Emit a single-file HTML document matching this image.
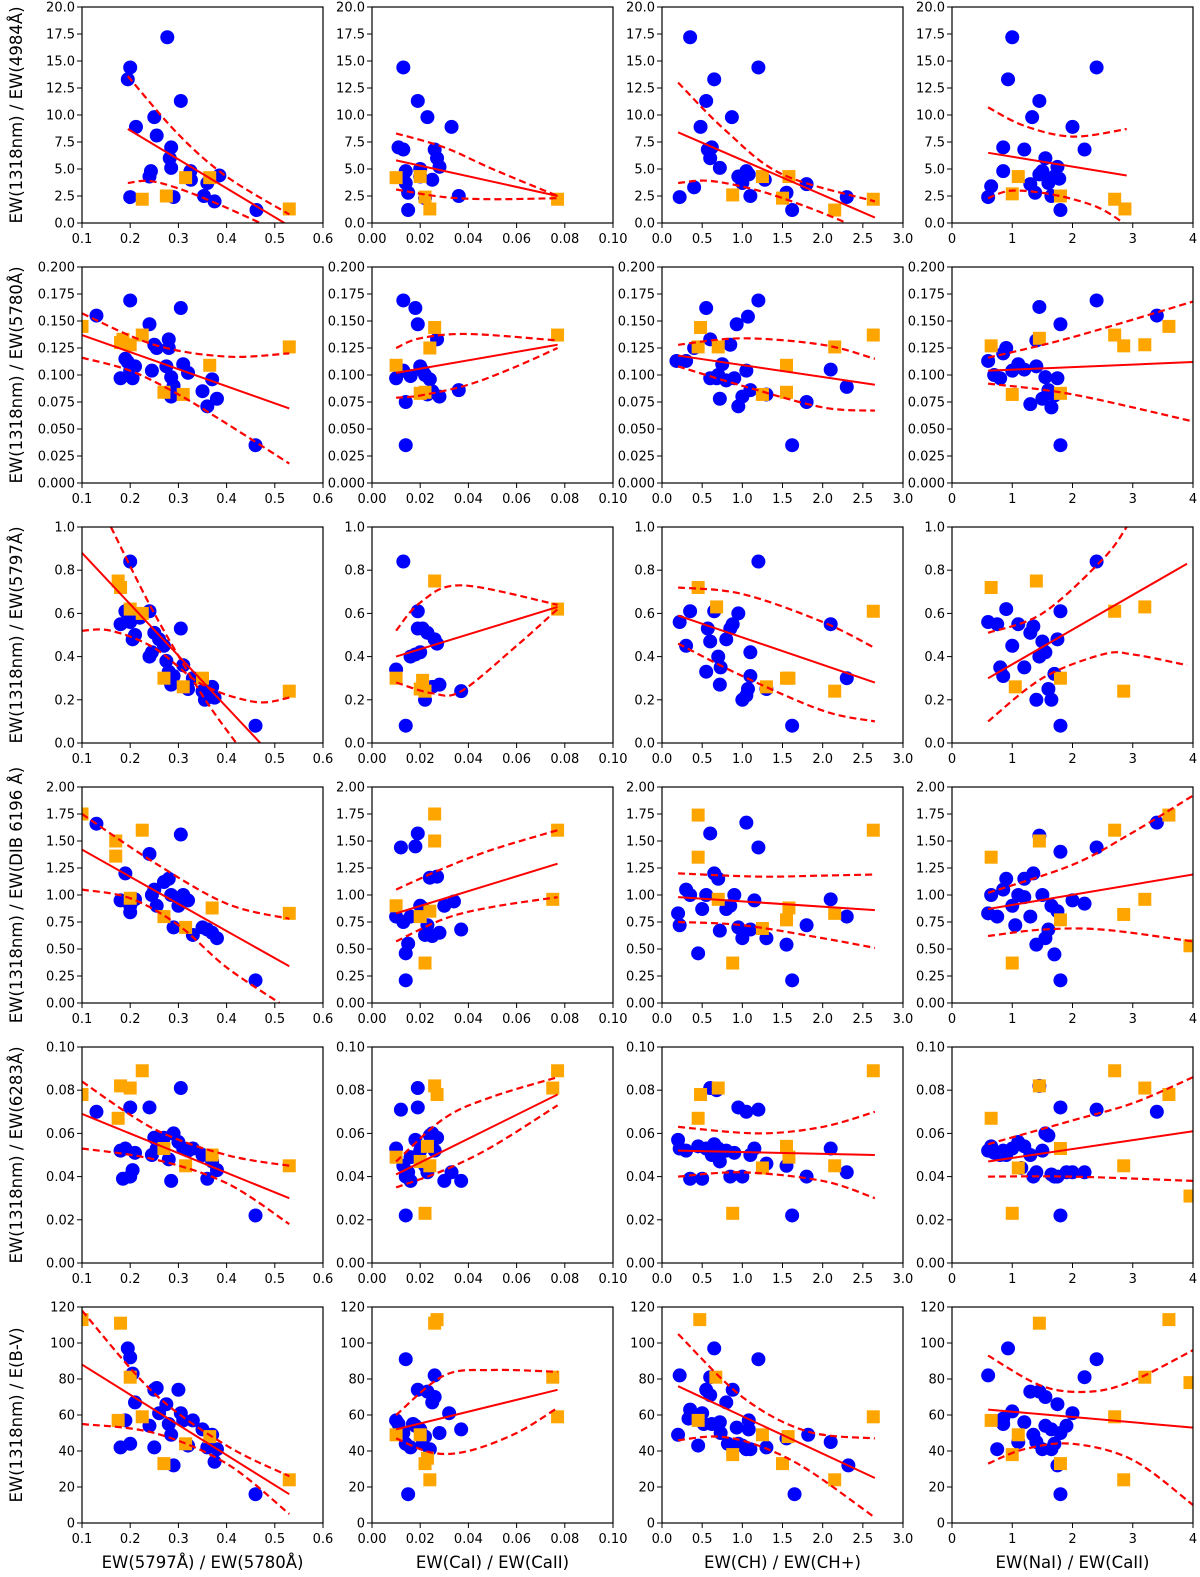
<!DOCTYPE html>
<html><head><meta charset="utf-8">
<style>
html,body{margin:0;padding:0;background:#fff;}
svg{display:block;font-family:"DejaVu Sans","Liberation Sans",sans-serif;}
</style></head>
<body>
<svg id="fig" width="1200" height="1577" viewBox="0 0 1200 1577" xmlns="http://www.w3.org/2000/svg"></svg>
<script>
// ---- column / row axis definitions ----
const colDomains = [[0.1,0.6],[0,0.1],[0,3],[0,4]];
const colTicks = [[0.1,0.2,0.3,0.4,0.5,0.6],[0,0.02,0.04,0.06,0.08,0.10],[0,0.5,1,1.5,2,2.5,3],[0,1,2,3,4]];
const colTickDec = [1,2,1,0];
const colLabels = ["EW(5797Å) / EW(5780Å)","EW(CaI) / EW(CaII)","EW(CH) / EW(CH+)","EW(NaI) / EW(CaII)"];
const rowDomains = [[0,20],[0,0.2],[0,1],[0,2],[0,0.1],[0,120]];
const rowTicks = [[0,2.5,5,7.5,10,12.5,15,17.5,20],[0,0.025,0.05,0.075,0.1,0.125,0.15,0.175,0.2],[0,0.2,0.4,0.6,0.8,1],[0,0.25,0.5,0.75,1,1.25,1.5,1.75,2],[0,0.02,0.04,0.06,0.08,0.1],[0,20,40,60,80,100,120]];
const rowTickDec = [1,3,1,2,2,0];
const rowLabels = ["EW(1318nm) / EW(4984Å)","EW(1318nm) / EW(5780Å)","EW(1318nm) / EW(5797Å)","EW(1318nm) / EW(DIB 6196 Å)","EW(1318nm) / EW(6283Å)","EW(1318nm) / E(B-V)"];

// ---- row 1 ----
const blue_r1c1=[[0.195,13.3],[0.2,14.4],[0.2,2.4],[0.212,8.9],[0.24,4.3],[0.243,4.8],[0.25,9.8],[0.255,8.1],[0.277,17.2],[0.282,6.0],[0.285,7.0],[0.285,5.1],[0.29,2.4],[0.305,11.3],[0.325,4.8],[0.326,4.0],[0.353,2.5],[0.36,3.7],[0.375,2.0],[0.385,4.4],[0.462,1.2]];
const orange_r1c1=[[0.225,2.2],[0.275,2.5],[0.315,4.2],[0.365,4.2],[0.53,1.3]];
const fit_r1c1=[[0.195,8.7],[0.52,0]];
const up_r1c1=[[0.195,13.6],[0.3,8.2],[0.4,4.3],[0.53,0.8]];
const lo_r1c1=[[0.195,3.7],[0.24,3.9],[0.3,3.2],[0.38,1.8],[0.47,0]];
const blue_r1c2=[[0.011,7.0],[0.013,6.8],[0.013,14.4],[0.014,4.8],[0.014,3.7],[0.015,2.8],[0.015,1.2],[0.019,11.3],[0.02,4.3],[0.023,9.8],[0.025,4.0],[0.026,6.8],[0.027,6.0],[0.028,5.2],[0.033,8.9],[0.036,2.5],[0.02,5],[0.022,2.3]];
const orange_r1c2=[[0.010,4.2],[0.020,4.3],[0.022,2.4],[0.024,1.3],[0.077,2.2]];
const fit_r1c2=[[0.01,5.8],[0.077,2.5]];
const up_r1c2=[[0.01,8.3],[0.03,7.0],[0.05,5.0],[0.077,2.5]];
const lo_r1c2=[[0.01,3.1],[0.03,2.4],[0.05,2.2],[0.077,2.3]];
const blue_r1c3=[[0.22,2.4],[0.35,17.2],[0.4,3.3],[0.48,8.9],[0.55,11.3],[0.57,6.8],[0.6,6.0],[0.62,7.0],[0.65,13.3],[0.72,5.1],[0.87,9.8],[0.95,4.3],[1.0,3.7],[1.05,4.8],[1.08,4.5],[1.1,2.5],[1.2,14.4],[1.28,4.0],[1.55,2.8],[1.62,1.2],[1.8,3.6],[2.3,2.4]];
const orange_r1c3=[[0.88,2.6],[1.25,4.3],[1.5,2.3],[1.58,4.3],[2.15,1.2],[2.63,2.2]];
const fit_r1c3=[[0.2,8.4],[2.65,0.5]];
const up_r1c3=[[0.2,13.0],[0.8,8.5],[1.5,4.5],[2.65,2.0]];
const lo_r1c3=[[0.2,3.7],[0.6,3.9],[1.2,3.0],[1.8,1.5],[2.3,0]];
const blue_r1c4=[[0.6,2.4],[0.65,3.4],[0.85,4.8],[0.85,7.0],[0.93,13.3],[1.0,17.2],[1.2,6.8],[1.3,3.6],[1.33,9.8],[1.38,2.8],[1.45,11.3],[1.45,4.5],[1.5,4.8],[1.55,6.0],[1.6,3.7],[1.65,2.5],[1.7,4.3],[1.75,5.2],[1.8,1.2],[2.0,8.9],[2.2,6.8],[2.4,14.4],[1.78,4.1]];
const orange_r1c4=[[1.0,2.7],[1.1,4.3],[1.8,2.5],[2.7,2.2],[2.87,1.3]];
const fit_r1c4=[[0.6,6.5],[2.9,4.4]];
const up_r1c4=[[0.6,10.7],[1.2,9.0],[2.0,8.0],[2.9,8.7]];
const lo_r1c4=[[0.6,2.3],[1.0,3.0],[1.7,2.6],[2.4,1.5],[2.85,0]];
// ---- row 2 ----
const blue_r2c1=[[0.13,0.155],[0.18,0.097],[0.19,0.115],[0.195,0.112],[0.2,0.169],[0.2,0.104],[0.205,0.097],[0.21,0.108],[0.24,0.147],[0.245,0.104],[0.25,0.128],[0.255,0.125],[0.28,0.133],[0.28,0.125],[0.285,0.098],[0.285,0.08],[0.29,0.09],[0.305,0.162],[0.31,0.11],[0.32,0.102],[0.35,0.085],[0.36,0.071],[0.37,0.096],[0.38,0.078],[0.46,0.035],[0.275,0.108]];
const orange_r2c1=[[0.1,0.145],[0.18,0.13],[0.185,0.133],[0.2,0.128],[0.225,0.137],[0.27,0.084],[0.31,0.082],[0.365,0.109],[0.53,0.126]];
const fit_r2c1=[[0.1,0.137],[0.53,0.069]];
const up_r2c1=[[0.1,0.157],[0.25,0.128],[0.4,0.117],[0.53,0.12]];
const lo_r2c1=[[0.1,0.116],[0.2,0.104],[0.3,0.082],[0.4,0.055],[0.53,0.018]];
const blue_r2c2=[[0.01,0.097],[0.013,0.169],[0.013,0.104],[0.014,0.075],[0.014,0.035],[0.016,0.099],[0.018,0.162],[0.019,0.147],[0.02,0.108],[0.021,0.104],[0.022,0.1],[0.023,0.082],[0.024,0.096],[0.025,0.085],[0.027,0.133],[0.028,0.08],[0.036,0.086]];
const orange_r2c2=[[0.01,0.109],[0.02,0.083],[0.022,0.084],[0.024,0.125],[0.026,0.144],[0.077,0.137]];
const fit_r2c2=[[0.01,0.102],[0.077,0.128]];
const up_r2c2=[[0.01,0.125],[0.02,0.134],[0.04,0.138],[0.077,0.132]];
const lo_r2c2=[[0.01,0.079],[0.02,0.081],[0.04,0.091],[0.06,0.108],[0.077,0.125]];
const blue_r2c3=[[0.18,0.113],[0.3,0.113],[0.4,0.125],[0.55,0.162],[0.6,0.133],[0.6,0.097],[0.68,0.097],[0.7,0.1],[0.72,0.078],[0.75,0.11],[0.8,0.095],[0.85,0.128],[0.9,0.097],[0.93,0.147],[0.95,0.071],[1.0,0.08],[1.05,0.104],[1.07,0.154],[1.1,0.086],[1.2,0.169],[1.3,0.082],[1.62,0.035],[1.8,0.075],[2.1,0.105],[2.3,0.089]];
const orange_r2c3=[[0.45,0.126],[0.48,0.144],[0.7,0.126],[1.25,0.082],[1.55,0.109],[1.55,0.084],[2.15,0.126],[2.63,0.137]];
const fit_r2c3=[[0.2,0.118],[2.65,0.091]];
const up_r2c3=[[0.2,0.128],[1.0,0.134],[2.0,0.128],[2.65,0.115]];
const lo_r2c3=[[0.2,0.108],[1.0,0.09],[2.0,0.07],[2.65,0.067]];
const blue_r2c4=[[0.6,0.113],[0.7,0.1],[0.8,0.097],[0.85,0.12],[0.9,0.125],[1.0,0.104],[1.1,0.11],[1.2,0.105],[1.3,0.073],[1.4,0.108],[1.45,0.163],[1.5,0.078],[1.55,0.098],[1.6,0.086],[1.65,0.07],[1.7,0.081],[1.75,0.097],[1.8,0.147],[1.8,0.035],[1.4,0.132],[2.4,0.169],[3.4,0.155]];
const orange_r2c4=[[0.65,0.127],[1.0,0.082],[1.45,0.134],[1.8,0.083],[2.7,0.137],[2.85,0.127],[3.2,0.128],[3.6,0.145]];
const fit_r2c4=[[0.6,0.104],[4,0.112]];
const up_r2c4=[[0.6,0.116],[2,0.135],[4,0.168]];
const lo_r2c4=[[0.6,0.092],[2,0.082],[4,0.057]];
// ---- row 3 ----
const blue_r3c1=[[0.18,0.55],[0.19,0.61],[0.2,0.84],[0.2,0.56],[0.205,0.48],[0.21,0.5],[0.24,0.61],[0.24,0.4],[0.245,0.42],[0.25,0.51],[0.27,0.45],[0.275,0.38],[0.28,0.33],[0.285,0.27],[0.29,0.31],[0.305,0.53],[0.31,0.36],[0.32,0.25],[0.33,0.3],[0.35,0.24],[0.355,0.2],[0.36,0.22],[0.37,0.26],[0.375,0.21],[0.46,0.08],[0.26,0.48],[0.22,0.58]];
const orange_r3c1=[[0.175,0.75],[0.18,0.72],[0.2,0.62],[0.225,0.6],[0.27,0.3],[0.31,0.26],[0.35,0.3],[0.53,0.24]];
const fit_r3c1=[[0.1,0.88],[0.47,0]];
const up_r3c1=[[0.16,1.0],[0.25,0.6],[0.35,0.22],[0.42,0]];
const lo_r3c1=[[0.1,0.52],[0.16,0.52],[0.25,0.44],[0.35,0.27],[0.46,0.19],[0.53,0.21]];
const blue_r3c2=[[0.01,0.34],[0.013,0.84],[0.014,0.08],[0.016,0.4],[0.018,0.41],[0.019,0.61],[0.019,0.53],[0.021,0.53],[0.022,0.2],[0.023,0.51],[0.025,0.26],[0.026,0.48],[0.027,0.46],[0.028,0.27],[0.037,0.24],[0.02,0.42]];
const orange_r3c2=[[0.01,0.3],[0.02,0.25],[0.021,0.29],[0.022,0.24],[0.026,0.75],[0.077,0.62]];
const fit_r3c2=[[0.01,0.4],[0.077,0.63]];
const up_r3c2=[[0.01,0.52],[0.02,0.65],[0.037,0.73],[0.077,0.64]];
const lo_r3c2=[[0.01,0.28],[0.025,0.23],[0.037,0.24],[0.06,0.45],[0.077,0.62]];
const blue_r3c3=[[0.22,0.56],[0.3,0.45],[0.35,0.61],[0.55,0.33],[0.57,0.53],[0.6,0.47],[0.65,0.61],[0.7,0.4],[0.72,0.27],[0.73,0.35],[0.8,0.48],[0.85,0.53],[0.88,0.55],[0.95,0.6],[1.0,0.2],[1.05,0.22],[1.07,0.25],[1.1,0.31],[1.1,0.42],[1.2,0.84],[1.3,0.25],[1.62,0.08],[2.1,0.55],[2.3,0.3]];
const orange_r3c3=[[0.45,0.72],[0.68,0.63],[1.3,0.26],[1.55,0.3],[1.58,0.3],[2.15,0.24],[2.63,0.61]];
const fit_r3c3=[[0.2,0.59],[2.65,0.28]];
const up_r3c3=[[0.2,0.72],[1.0,0.69],[2.0,0.56],[2.65,0.44]];
const lo_r3c3=[[0.2,0.46],[1.0,0.31],[2.0,0.15],[2.65,0.1]];
const blue_r3c4=[[0.6,0.56],[0.75,0.55],[0.8,0.35],[0.85,0.31],[0.9,0.62],[1.0,0.45],[1.1,0.55],[1.2,0.35],[1.3,0.51],[1.35,0.54],[1.4,0.2],[1.45,0.4],[1.5,0.47],[1.55,0.42],[1.6,0.25],[1.65,0.2],[1.7,0.32],[1.75,0.48],[1.8,0.61],[1.8,0.08],[2.4,0.84]];
const orange_r3c4=[[0.65,0.72],[1.05,0.26],[1.4,0.75],[1.8,0.3],[2.7,0.61],[2.85,0.24],[3.2,0.63]];
const fit_r3c4=[[0.6,0.3],[3.9,0.83]];
const up_r3c4=[[0.6,0.51],[1.5,0.6],[2.5,0.85],[2.9,1.0]];
const lo_r3c4=[[0.6,0.1],[1.5,0.3],[2.5,0.41],[3.0,0.41],[3.9,0.36]];
// ---- row 4 ----
const blue_r4c1=[[0.13,1.66],[0.18,0.95],[0.19,1.2],[0.2,0.84],[0.2,0.9],[0.21,0.96],[0.24,1.38],[0.245,1.0],[0.25,1.05],[0.255,0.9],[0.27,1.12],[0.28,1.15],[0.285,1.0],[0.29,0.7],[0.3,0.9],[0.305,1.56],[0.31,1.0],[0.32,0.95],[0.33,0.63],[0.35,0.7],[0.36,0.68],[0.37,0.65],[0.38,0.6],[0.46,0.21]];
const orange_r4c1=[[0.1,1.75],[0.17,1.5],[0.17,1.36],[0.2,0.97],[0.225,1.6],[0.27,0.8],[0.315,0.7],[0.37,0.88],[0.53,0.83]];
const fit_r4c1=[[0.1,1.42],[0.53,0.34]];
const up_r4c1=[[0.1,1.75],[0.25,1.3],[0.4,0.92],[0.53,0.78]];
const lo_r4c1=[[0.1,1.05],[0.2,0.97],[0.3,0.72],[0.4,0.33],[0.51,0]];
const blue_r4c2=[[0.01,0.8],[0.012,1.44],[0.013,0.75],[0.014,0.46],[0.014,0.21],[0.015,0.55],[0.016,0.8],[0.018,1.45],[0.019,1.57],[0.02,0.9],[0.021,0.88],[0.022,0.63],[0.023,0.72],[0.024,1.16],[0.025,0.62],[0.027,1.17],[0.028,0.65],[0.03,0.9],[0.034,0.94],[0.037,0.68]];
const orange_r4c2=[[0.01,0.9],[0.02,0.8],[0.022,0.37],[0.024,0.85],[0.026,1.5],[0.026,1.75],[0.075,0.96],[0.077,1.6]];
const fit_r4c2=[[0.01,0.83],[0.077,1.29]];
const up_r4c2=[[0.01,1.05],[0.03,1.25],[0.05,1.42],[0.077,1.6]];
const lo_r4c2=[[0.01,0.57],[0.03,0.78],[0.05,0.89],[0.077,0.98]];
const blue_r4c3=[[0.2,0.83],[0.22,0.72],[0.3,1.05],[0.35,1.0],[0.45,0.46],[0.5,0.87],[0.55,1.0],[0.6,1.57],[0.65,1.2],[0.7,1.15],[0.72,0.67],[0.8,0.87],[0.85,0.9],[0.9,1.0],[0.95,0.7],[1.0,0.6],[1.05,1.67],[1.1,0.68],[1.15,0.95],[1.2,1.44],[1.3,0.6],[1.55,0.54],[1.62,0.21],[1.8,0.72],[2.1,0.96],[2.3,0.8]];
const orange_r4c3=[[0.45,1.74],[0.45,1.35],[0.7,0.96],[0.88,0.37],[1.25,0.69],[1.55,0.77],[1.58,0.88],[2.15,0.83],[2.63,1.6]];
const fit_r4c3=[[0.2,0.98],[2.65,0.86]];
const up_r4c3=[[0.2,1.2],[1.2,1.17],[2.0,1.18],[2.65,1.19]];
const lo_r4c3=[[0.2,0.75],[1.0,0.72],[2.0,0.6],[2.65,0.51]];
const blue_r4c4=[[0.6,0.83],[0.65,1.0],[0.75,0.8],[0.85,1.05],[0.9,1.15],[1.0,0.9],[1.05,0.72],[1.1,1.0],[1.2,1.15],[1.3,0.8],[1.35,1.2],[1.4,0.54],[1.45,1.55],[1.5,1.0],[1.55,0.6],[1.6,0.68],[1.65,0.9],[1.7,0.45],[1.75,0.85],[1.8,1.4],[1.8,0.21],[2.0,0.95],[2.2,0.92],[2.4,1.44],[3.4,1.67],[1.2,0.98]];
const orange_r4c4=[[0.65,1.35],[1.0,0.37],[1.45,1.5],[1.8,0.77],[2.7,1.6],[2.85,0.82],[3.2,0.96],[3.6,1.74],[3.95,0.53]];
const fit_r4c4=[[0.6,0.87],[4,1.19]];
const up_r4c4=[[0.6,1.02],[2,1.28],[3,1.58],[4,1.92]];
const lo_r4c4=[[0.6,0.62],[1.5,0.68],[2.5,0.68],[4,0.57]];
// ---- row 5 ----
const blue_r5c1=[[0.13,0.07],[0.18,0.052],[0.185,0.039],[0.19,0.053],[0.2,0.072],[0.2,0.04],[0.205,0.043],[0.21,0.051],[0.24,0.072],[0.245,0.05],[0.25,0.058],[0.255,0.053],[0.27,0.058],[0.28,0.048],[0.285,0.038],[0.29,0.06],[0.3,0.056],[0.305,0.081],[0.31,0.053],[0.32,0.052],[0.33,0.053],[0.35,0.05],[0.36,0.039],[0.37,0.047],[0.38,0.043],[0.46,0.022]];
const orange_r5c1=[[0.1,0.078],[0.175,0.067],[0.18,0.082],[0.2,0.081],[0.225,0.089],[0.27,0.053],[0.315,0.045],[0.37,0.05],[0.53,0.045]];
const fit_r5c1=[[0.1,0.069],[0.53,0.03]];
const up_r5c1=[[0.1,0.084],[0.25,0.062],[0.4,0.05],[0.53,0.045]];
const lo_r5c1=[[0.1,0.053],[0.25,0.048],[0.4,0.037],[0.53,0.018]];
const blue_r5c2=[[0.01,0.053],[0.012,0.071],[0.013,0.045],[0.014,0.022],[0.014,0.04],[0.015,0.042],[0.016,0.049],[0.018,0.057],[0.019,0.072],[0.019,0.081],[0.02,0.052],[0.022,0.045],[0.023,0.042],[0.024,0.059],[0.025,0.06],[0.026,0.052],[0.027,0.058],[0.03,0.038],[0.033,0.042],[0.037,0.038],[0.016,0.038]];
const orange_r5c2=[[0.01,0.049],[0.02,0.047],[0.022,0.023],[0.023,0.054],[0.024,0.045],[0.026,0.082],[0.027,0.078],[0.075,0.081],[0.077,0.089]];
const fit_r5c2=[[0.01,0.041],[0.077,0.078]];
const up_r5c2=[[0.01,0.047],[0.03,0.067],[0.05,0.077],[0.077,0.086]];
const lo_r5c2=[[0.01,0.035],[0.03,0.043],[0.05,0.054],[0.077,0.073]];
const blue_r5c3=[[0.2,0.057],[0.22,0.053],[0.3,0.052],[0.35,0.039],[0.45,0.054],[0.5,0.039],[0.55,0.053],[0.6,0.081],[0.62,0.05],[0.65,0.055],[0.7,0.053],[0.72,0.047],[0.8,0.052],[0.85,0.04],[0.9,0.051],[0.95,0.072],[1.0,0.04],[1.05,0.07],[1.1,0.05],[1.15,0.053],[1.2,0.071],[1.3,0.046],[1.55,0.045],[1.62,0.022],[1.8,0.04],[2.1,0.053],[2.3,0.042],[0.68,0.08]];
const orange_r5c3=[[0.45,0.067],[0.48,0.078],[0.7,0.081],[0.88,0.023],[1.25,0.044],[1.55,0.054],[1.58,0.049],[2.15,0.045],[2.63,0.089]];
const fit_r5c3=[[0.2,0.052],[2.65,0.05]];
const up_r5c3=[[0.2,0.063],[1.2,0.06],[2.0,0.063],[2.65,0.07]];
const lo_r5c3=[[0.2,0.04],[1.0,0.042],[2.0,0.038],[2.65,0.03]];
const blue_r5c4=[[0.6,0.052],[0.65,0.054],[0.7,0.051],[0.8,0.05],[0.85,0.052],[0.9,0.05],[1.0,0.053],[1.1,0.056],[1.15,0.044],[1.2,0.054],[1.3,0.05],[1.35,0.04],[1.4,0.042],[1.45,0.082],[1.5,0.052],[1.55,0.06],[1.6,0.059],[1.65,0.041],[1.7,0.04],[1.75,0.04],[1.8,0.072],[1.8,0.022],[1.9,0.042],[2.0,0.042],[2.2,0.042],[2.4,0.071],[3.4,0.07]];
const orange_r5c4=[[0.65,0.067],[1.0,0.023],[1.1,0.044],[1.45,0.082],[1.8,0.053],[2.7,0.089],[2.85,0.045],[3.2,0.081],[3.6,0.078],[3.95,0.031]];
const fit_r5c4=[[0.6,0.047],[4,0.061]];
const up_r5c4=[[0.6,0.055],[2,0.066],[3,0.074],[4,0.086]];
const lo_r5c4=[[0.6,0.04],[2,0.04],[4,0.038]];
// ---- row 6 ----
const blue_r6c1=[[0.18,42],[0.19,57],[0.195,97],[0.2,92],[0.2,44],[0.205,83],[0.21,67],[0.24,54],[0.25,42],[0.25,74],[0.255,75],[0.26,61],[0.275,66],[0.28,55],[0.285,49],[0.29,32],[0.3,74],[0.305,61],[0.31,57],[0.32,43],[0.33,57],[0.35,52],[0.36,42],[0.37,49],[0.375,34],[0.38,41],[0.46,16]];
const orange_r6c1=[[0.1,113],[0.175,57],[0.18,111],[0.2,81],[0.225,59],[0.27,33],[0.315,44],[0.365,48],[0.53,24]];
const fit_r6c1=[[0.1,88],[0.53,16]];
const up_r6c1=[[0.1,118],[0.25,72],[0.4,43],[0.53,26]];
const lo_r6c1=[[0.1,55],[0.25,50],[0.4,33],[0.53,5]];
const blue_r6c2=[[0.01,57],[0.011,55],[0.013,50],[0.014,91],[0.014,44],[0.015,16],[0.016,42],[0.017,55],[0.018,54],[0.019,74],[0.02,52],[0.021,44],[0.022,48],[0.023,73],[0.024,41],[0.025,67],[0.026,82],[0.026,70],[0.028,50],[0.032,61],[0.037,52]];
const orange_r6c2=[[0.01,49],[0.02,49],[0.022,33],[0.023,36],[0.024,24],[0.026,111],[0.027,113],[0.075,81],[0.077,59]];
const fit_r6c2=[[0.01,52],[0.077,74]];
const up_r6c2=[[0.01,60],[0.03,82],[0.05,85],[0.077,84]];
const lo_r6c2=[[0.01,47],[0.025,39],[0.04,40],[0.06,50],[0.077,64]];
const blue_r6c3=[[0.2,49],[0.22,82],[0.35,63],[0.33,58],[0.45,43],[0.5,61],[0.52,55],[0.55,74],[0.6,71],[0.62,55],[0.65,97],[0.6,81],[0.72,56],[0.73,50],[0.8,67],[0.82,44],[0.88,74],[0.93,53],[0.95,44],[1.0,43],[1.05,41],[1.08,57],[1.08,52],[1.1,41],[1.2,91],[1.3,42],[1.55,47],[1.65,16],[1.82,49],[2.1,45],[2.32,32]];
const orange_r6c3=[[0.47,113],[0.45,57],[0.67,81],[0.88,38],[1.25,49],[1.5,33],[1.57,48],[2.15,24],[2.63,59]];
const fit_r6c3=[[0.2,76],[2.65,25]];
const up_r6c3=[[0.2,105],[1.0,70],[1.8,51],[2.65,47]];
const lo_r6c3=[[0.2,46],[0.7,48],[1.2,43],[1.8,30],[2.65,3]];
const blue_r6c4=[[0.6,82],[0.75,41],[0.85,55],[0.85,58],[0.93,97],[1.0,62],[1.1,45],[1.2,56],[1.3,73],[1.35,49],[1.4,45],[1.45,73],[1.5,41],[1.55,54],[1.55,70],[1.65,52],[1.65,41],[1.7,44],[1.75,32],[1.75,66],[1.8,16],[1.8,50],[1.9,54],[2.0,61],[2.2,81],[2.4,91]];
const orange_r6c4=[[0.65,57],[1.0,38],[1.1,49],[1.45,111],[1.8,33],[2.7,59],[2.85,24],[3.2,81],[3.6,113],[3.95,78]];
const fit_r6c4=[[0.6,63],[4,53]];
const up_r6c4=[[0.6,93],[1.5,76],[2.3,73],[3.0,79],[4,96]];
const lo_r6c4=[[0.6,33],[1.2,41],[2,44],[3,35],[4,10]];

const panelBlue=[[blue_r1c1,blue_r1c2,blue_r1c3,blue_r1c4],[blue_r2c1,blue_r2c2,blue_r2c3,blue_r2c4],[blue_r3c1,blue_r3c2,blue_r3c3,blue_r3c4],[blue_r4c1,blue_r4c2,blue_r4c3,blue_r4c4],[blue_r5c1,blue_r5c2,blue_r5c3,blue_r5c4],[blue_r6c1,blue_r6c2,blue_r6c3,blue_r6c4]];
const panelOrange=[[orange_r1c1,orange_r1c2,orange_r1c3,orange_r1c4],[orange_r2c1,orange_r2c2,orange_r2c3,orange_r2c4],[orange_r3c1,orange_r3c2,orange_r3c3,orange_r3c4],[orange_r4c1,orange_r4c2,orange_r4c3,orange_r4c4],[orange_r5c1,orange_r5c2,orange_r5c3,orange_r5c4],[orange_r6c1,orange_r6c2,orange_r6c3,orange_r6c4]];
const panelFit=[[fit_r1c1,fit_r1c2,fit_r1c3,fit_r1c4],[fit_r2c1,fit_r2c2,fit_r2c3,fit_r2c4],[fit_r3c1,fit_r3c2,fit_r3c3,fit_r3c4],[fit_r4c1,fit_r4c2,fit_r4c3,fit_r4c4],[fit_r5c1,fit_r5c2,fit_r5c3,fit_r5c4],[fit_r6c1,fit_r6c2,fit_r6c3,fit_r6c4]];
const panelUp=[[up_r1c1,up_r1c2,up_r1c3,up_r1c4],[up_r2c1,up_r2c2,up_r2c3,up_r2c4],[up_r3c1,up_r3c2,up_r3c3,up_r3c4],[up_r4c1,up_r4c2,up_r4c3,up_r4c4],[up_r5c1,up_r5c2,up_r5c3,up_r5c4],[up_r6c1,up_r6c2,up_r6c3,up_r6c4]];
const panelLo=[[lo_r1c1,lo_r1c2,lo_r1c3,lo_r1c4],[lo_r2c1,lo_r2c2,lo_r2c3,lo_r2c4],[lo_r3c1,lo_r3c2,lo_r3c3,lo_r3c4],[lo_r4c1,lo_r4c2,lo_r4c3,lo_r4c4],[lo_r5c1,lo_r5c2,lo_r5c3,lo_r5c4],[lo_r6c1,lo_r6c2,lo_r6c3,lo_r6c4]];

const NS="http://www.w3.org/2000/svg";
const svg=document.getElementById('fig');
const PW=241, PH=216, LEFTS=[82,372,662,952], TOP0=7, ROWSTEP=260;
function mk(tag,attrs,parent){const e=document.createElementNS(NS,tag);for(const k in attrs)e.setAttribute(k,attrs[k]);(parent||svg).appendChild(e);return e;}
function smoothPath(pts){
  if(pts.length<3){return 'M'+pts.map(p=>p[0].toFixed(1)+','+p[1].toFixed(1)).join(' L');}
  let d='M'+pts[0][0].toFixed(1)+','+pts[0][1].toFixed(1);
  for(let i=0;i<pts.length-1;i++){
    const p0=pts[i-1]||pts[i],p1=pts[i],p2=pts[i+1],p3=pts[i+2]||p2;
    const c1=[p1[0]+(p2[0]-p0[0])/6,p1[1]+(p2[1]-p0[1])/6];
    const c2=[p2[0]-(p3[0]-p1[0])/6,p2[1]-(p3[1]-p1[1])/6];
    d+=` C${c1[0].toFixed(1)},${c1[1].toFixed(1)} ${c2[0].toFixed(1)},${c2[1].toFixed(1)} ${p2[0].toFixed(1)},${p2[1].toFixed(1)}`;
  }
  return d;
}
for(let r=0;r<6;r++){
  for(let c=0;c<4;c++){
    const x0=LEFTS[c], y0=TOP0+r*ROWSTEP;
    const xd=colDomains[c], yd=rowDomains[r];
    const sx=v=>x0+(v-xd[0])/(xd[1]-xd[0])*PW;
    const sy=v=>y0+PH-(v-yd[0])/(yd[1]-yd[0])*PH;
    const g=mk('g',{});
    
    
    const cid='clip'+r+'_'+c;
    const cp=mk('clipPath',{id:cid},g);
    mk('rect',{x:x0,y:y0,width:PW,height:PH},cp);
    const plot=mk('g',{'clip-path':'url(#'+cid+')'},g);
    panelBlue[r][c].forEach(p=>{
      const e=mk('ellipse',{cx:sx(p[0]),cy:sy(p[1]),rx:7,ry:7,fill:'#0000ff'},plot);
      
      
    });
    panelOrange[r][c].forEach(p=>{
      const e=mk('rect',{x:sx(p[0])-6.5,y:sy(p[1])-6.5,width:13,height:13,fill:'#ffa500'},plot);
      
      
    });
    const f=panelFit[r][c];
    const fl=mk('line',{x1:sx(f[0][0]),y1:sy(f[0][1]),x2:sx(f[1][0]),y2:sy(f[1][1]),stroke:'#ff0000','stroke-width':2},plot);
    
    
    [panelUp[r][c],panelLo[r][c]].forEach((arr,i)=>{
      const pts=arr.map(p=>[sx(p[0]),sy(p[1])]);
      const pe=mk('path',{d:smoothPath(pts),fill:'none',stroke:'#ff0000','stroke-width':2.2,'stroke-dasharray':'7,4'},plot);
      
      
    });
    mk('rect',{x:x0,y:y0,width:PW,height:PH,fill:'none',stroke:'#000','stroke-width':1.2},g);
    colTicks[c].forEach(t=>{
      const x=sx(t);
      mk('line',{x1:x,y1:y0+PH,x2:x,y2:y0+PH+5,stroke:'#000','stroke-width':1},g);
      const tx=mk('text',{x:x,y:y0+PH+20,'font-size':13,'text-anchor':'middle',fill:'#000'},g);
      tx.textContent=t.toFixed(colTickDec[c]);
      
      
    });
    rowTicks[r].forEach(t=>{
      const y=sy(t);
      mk('line',{x1:x0-5,y1:y,x2:x0,y2:y,stroke:'#000','stroke-width':1},g);
      const ty=mk('text',{x:x0-7,y:y+4.5,'font-size':13,'text-anchor':'end',fill:'#000'},g);
      ty.textContent=t.toFixed(rowTickDec[r]);
      
      
    });
  }
  const yl=mk('text',{x:0,y:0,'font-size':16.5,'text-anchor':'middle',fill:'#000',transform:`translate(22,${TOP0+r*ROWSTEP+PH/2}) rotate(-90)`});
  yl.textContent=rowLabels[r];
  
  
}
for(let c=0;c<4;c++){
  const xl=mk('text',{x:LEFTS[c]+PW/2,y:1568,'font-size':16.5,'text-anchor':'middle',fill:'#000'});
  xl.textContent=colLabels[c];
  
  
}
</script>
</body></html>
